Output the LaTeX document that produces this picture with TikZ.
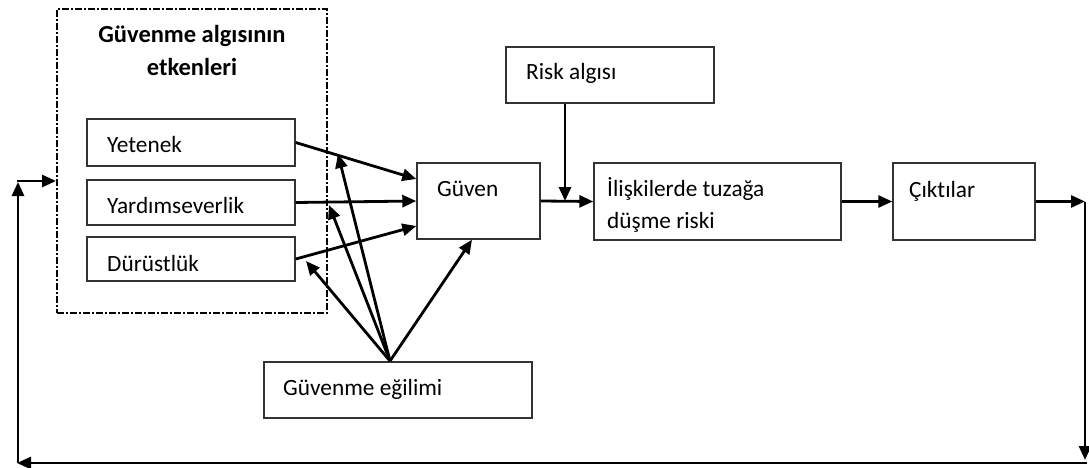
\documentclass[tikz,border=0pt]{standalone}
\usepackage{fontspec}
\setmainfont{Carlito}[Ligatures={NoCommon}]
\usetikzlibrary{arrows.meta,calc}
\begin{document}
\begin{tikzpicture}[x=1pt,y=-1pt,
  box/.style={draw=black!80,line width=1.4pt,inner sep=0pt,fill=white},
  lbl/.style={anchor=base west,inner sep=0pt,font=\fontsize{23.3}{28}\selectfont},
  ttl/.style={anchor=base,inner sep=0pt,font=\fontsize{24.5}{29}\selectfont\bfseries},
  conn/.style={line width=2.8pt,-{Triangle[length=14pt,width=12pt]}}]
\useasboundingbox (0,0) rectangle (1089,468);
% outer dashed group
\node[draw=black,line width=2pt,dash pattern=on 7pt off 2pt on 2pt off 2pt,minimum width=270pt,minimum height=304pt,inner sep=0pt] (grp) at (192,161) {};
\node[ttl] (t1) at (192,43) {Güvenme algısının};
\node[ttl] (t2) at (192,76) {etkenleri};
% factor boxes
\node[box,minimum width=208pt,minimum height=47pt] (yet) at (191,142.5) {};
\node[lbl] (yetT) at (107,153) {Yetenek};
\node[box,minimum width=208pt,minimum height=45pt] (yar) at (191,202.5) {};
\node[lbl] (yarT) at (107,213) {Yardımseverlik};
\node[box,minimum width=208pt,minimum height=44pt] (dur) at (191,259) {};
\node[lbl] (durT) at (107,271) {Dürüstlük};
% main boxes
\node[box,minimum width=123pt,minimum height=76pt] (guv) at (478.5,201) {};
\node[lbl] (guvT) at (437,196) {Güven};
\node[box,minimum width=208pt,minimum height=56pt] (risk) at (610,75) {};
\node[lbl] (riskT) at (526,80) {Risk algısı};
\node[box,minimum width=247pt,minimum height=77pt] (ili) at (717.5,201.5) {};
\node[lbl] (iliT1) at (607,196) {İlişkilerde tuzağa};
\node[lbl] (iliT2) at (607,228) {düşme riski};
\node[box,minimum width=142pt,minimum height=77pt] (cik) at (964,201.5) {};
\node[lbl] (cikT) at (909,197) {Çıktılar};
\node[box,minimum width=268pt,minimum height=56pt] (egi) at (398,390) {};
\node[lbl] (egiT) at (283,395) {Güvenme eğilimi};
% coordinates
\coordinate (src) at (390,361);
\coordinate (tA) at (338,154);
\coordinate (tB) at (329,205);
\coordinate (tC) at (306,261);
\coordinate (r1) at (1085,201.5);
\coordinate (r2) at (1085,460);
\coordinate (b1) at (1087,463);
\coordinate (b2) at (17,463);
\coordinate (l1) at (18,463);
\coordinate (l2) at (18,182);
\coordinate (l3) at (17,181);
% connectors into Güven
\draw[conn] (yet.east) -- ([yshift=22pt]guv.west);
\draw[conn] (yar.east) -- (guv.west);
\draw[conn] (dur.east) -- ([yshift=-25pt]guv.west);
% from Güvenme eğilimi
\draw[conn] (src) -- ([xshift=-6.5pt]guv.south);
\draw[conn] (src) -- (tA);
\draw[conn] (src) -- (tB);
\draw[conn] (src) -- (tC);
% risk chain
\draw[conn] (guv.east) -- (ili.west);
\draw[conn] ([xshift=-45pt]risk.south) -- ([xshift=-45pt]risk.south |- guv.east);
\draw[conn] (ili.east) -- (cik.west);
\draw[conn] (cik.east) -- (r1);
\draw[conn] (r1) -- (r2);
\draw[conn] (b1) -- (b2);
\draw[conn] (l1) -- (l2);
\draw[conn] (l3) -- (grp.west |- l3);
\end{tikzpicture}
\end{document}
